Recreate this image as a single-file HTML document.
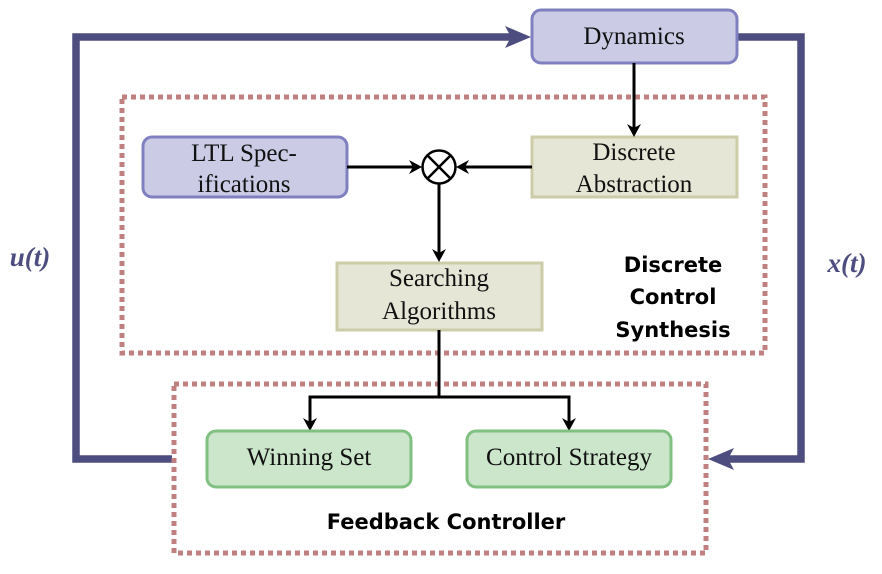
<!DOCTYPE html>
<html><head><meta charset="utf-8"><style>
html,body{margin:0;padding:0;background:#fff;}
svg{display:block;}
.s{font-family:"Liberation Serif",serif;font-size:25px;fill:#111;}
.b{font-family:"DejaVu Sans",sans-serif;font-weight:bold;font-size:21px;fill:#000;}
</style></head><body>
<svg width="882" height="574" viewBox="0 0 882 574" xmlns="http://www.w3.org/2000/svg">
<!-- feedback loops -->
<polyline points="172,459 76,459 76,37 512,37" fill="none" stroke="#4d4d80" stroke-width="7.5"/>
<path d="M531,37 L505,26 L511,37 L505,48 Z" fill="#4d4d80"/>
<polyline points="737,37 801,37 801,459 728,459" fill="none" stroke="#4d4d80" stroke-width="7.5"/>
<path d="M708,459 L734,448 L728,459 L734,470 Z" fill="#4d4d80"/>
<!-- dashed boxes -->
<rect x="122" y="97" width="643" height="256" fill="none" stroke="#c08080" stroke-width="5" stroke-dasharray="5,4"/>
<rect x="174" y="384" width="532" height="169" fill="none" stroke="#c08080" stroke-width="5" stroke-dasharray="5,4"/>
<!-- Dynamics -->
<rect x="532" y="10" width="205" height="53" rx="9" fill="#cbcbe6" stroke="#8080c0" stroke-width="3"/>
<text class="s" x="634" y="44" text-anchor="middle">Dynamics</text>
<!-- LTL -->
<rect x="143" y="137" width="204" height="60" rx="9" fill="#cbcbe6" stroke="#8080c0" stroke-width="3"/>
<text class="s" x="244" y="161" text-anchor="middle">LTL Spec-</text>
<text class="s" x="244" y="192" text-anchor="middle">ifications</text>
<!-- Discrete Abstraction -->
<rect x="532" y="137" width="205" height="60" fill="#e6e6d6" stroke="#cccca8" stroke-width="3"/>
<text class="s" x="634" y="160" text-anchor="middle">Discrete</text>
<text class="s" x="634" y="192" text-anchor="middle">Abstraction</text>
<!-- Searching -->
<rect x="337" y="263" width="205" height="67" fill="#e6e6d6" stroke="#cccca8" stroke-width="3"/>
<text class="s" x="439" y="286" text-anchor="middle">Searching</text>
<text class="s" x="439" y="319" text-anchor="middle">Algorithms</text>
<!-- otimes -->
<circle cx="439" cy="167" r="16.5" fill="#fff" stroke="#000" stroke-width="2.5"/>
<line x1="427.3" y1="155.3" x2="450.7" y2="178.7" stroke="#000" stroke-width="2.5"/>
<line x1="450.7" y1="155.3" x2="427.3" y2="178.7" stroke="#000" stroke-width="2.5"/>
<!-- connectors -->
<g stroke="#000" stroke-width="3" fill="none">
<line x1="347" y1="167" x2="416" y2="167"/>
<line x1="532" y1="167" x2="462" y2="167"/>
<line x1="634" y1="63" x2="634" y2="130"/>
<line x1="439" y1="184" x2="439" y2="256"/>
<line x1="439" y1="330" x2="439" y2="397"/>
<polyline points="310,424 310,397 569,397 569,424"/>
</g>
<g fill="#000">
<path d="M422,167 L409,160 L413,167 L409,174 Z"/>
<path d="M456,167 L469,160 L465,167 L469,174 Z"/>
<path d="M634,137 L627,124 L634,128 L641,124 Z"/>
<path d="M439,262 L432,249 L439,253 L446,249 Z"/>
<path d="M310,431 L303,418 L310,422 L317,418 Z"/>
<path d="M569,431 L562,418 L569,422 L576,418 Z"/>
</g>
<!-- Winning / Control -->
<rect x="207" y="431" width="204" height="56" rx="9" fill="#cce6cc" stroke="#80c080" stroke-width="3"/>
<text class="s" x="309" y="465" text-anchor="middle">Winning Set</text>
<rect x="467" y="431" width="204" height="56" rx="9" fill="#cce6cc" stroke="#80c080" stroke-width="3"/>
<text class="s" x="569" y="465" text-anchor="middle">Control Strategy</text>
<!-- labels -->
<text class="b" x="673" y="272" text-anchor="middle">Discrete</text>
<text class="b" x="673" y="304" text-anchor="middle">Control</text>
<text class="b" x="673" y="337" text-anchor="middle">Synthesis</text>
<text class="b" x="446" y="529" text-anchor="middle">Feedback Controller</text>
<text x="30" y="266" text-anchor="middle" style="font-family:'Liberation Serif',serif;font-size:27px;font-style:italic;font-weight:bold;fill:#4d4d80">u(t)</text>
<text x="847" y="272" text-anchor="middle" style="font-family:'Liberation Serif',serif;font-size:27px;font-style:italic;font-weight:bold;fill:#4d4d80">x(t)</text>
</svg>
</body></html>
